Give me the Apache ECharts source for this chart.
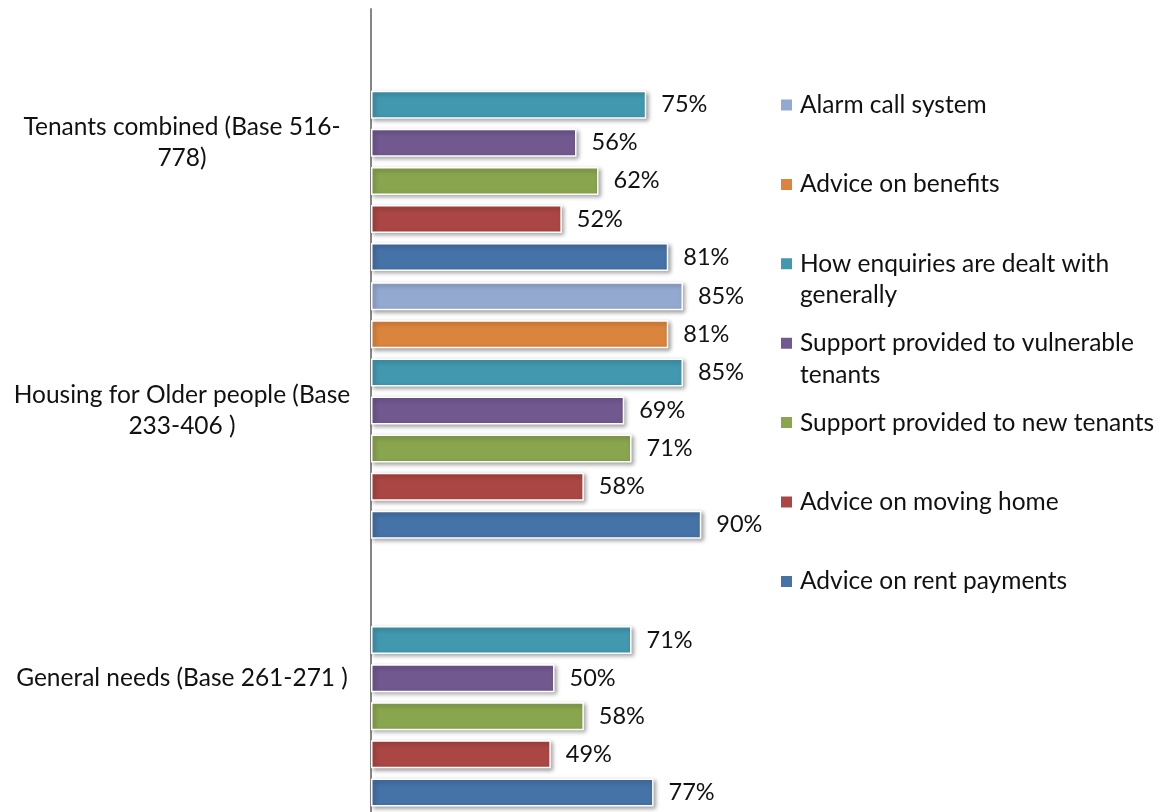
<!DOCTYPE html>
<html>
<head>
<meta charset="utf-8">
<script src="https://cdn.jsdelivr.net/npm/echarts@6/dist/echarts.min.js"></script>
<style>
  html, body { margin: 0; padding: 0; background: #ffffff; }
  #chart { width: 1167px; height: 812px; }
</style>
</head>
<body>
<div id="chart"></div>
<script>
// Categories, listed bottom to top along the vertical axis
const categories = [
  'General needs (Base 261-271 )',
  'Housing for Older people (Base 233-406 )',
  'Tenants combined (Base 516-778)'
];
// How each category name wraps on the axis
const categoryWrapped = {
  'General needs (Base 261-271 )': 'General needs (Base 261-271 )',
  'Housing for Older people (Base 233-406 )': 'Housing for Older people (Base\n233-406 )',
  'Tenants combined (Base 516-778)': 'Tenants combined (Base 516-\n778)'
};

// Satisfaction (%) per category, same order as categories
const rentPayments      = [77, 90, 81];
const movingHome        = [49, 58, 52];
const newTenants        = [58, 71, 62];
const vulnerableTenants = [50, 69, 56];
const enquiriesGeneral  = [71, 85, 75];
const benefitsAdvice    = [null, 81, null];
const alarmCallSystem   = [null, 85, null];

const seriesNames = [
  'Alarm call system',
  'Advice on benefits',
  'How enquiries are dealt with generally',
  'Support provided to vulnerable tenants',
  'Support provided to new tenants',
  'Advice on moving home',
  'Advice on rent payments'
];
const seriesData = [
  alarmCallSystem, benefitsAdvice, enquiriesGeneral, vulnerableTenants,
  newTenants, movingHome, rentPayments
];
const seriesColors = [
  '#93A9CF', '#DB843D', '#4198AF', '#71588F', '#89A54E', '#AA4643', '#4572A7'
];
// Legend entries that wrap onto a second line
const legendWrapped = {
  'How enquiries are dealt with generally': 'How enquiries are dealt with\ngenerally',
  'Support provided to vulnerable tenants': 'Support provided to vulnerable\ntenants'
};

const FONT = 'Lato';
const TEXT_SIZE = 24.5;
const VALUE_SIZE = 23.5;
const LINE_H = 31.5;

const chart = echarts.init(document.getElementById('chart'), null, { renderer: 'canvas' });

const series = seriesNames.map((name, i) => ({
  name: name,
  type: 'bar',
  data: seriesData[i],
  barWidth: 28,
  barGap: '36%',
  itemStyle: {
    color: seriesColors[i],
    borderColor: '#ffffff',
    borderWidth: 1.5,
    shadowColor: 'rgba(0,0,0,0.35)',
    shadowBlur: 4,
    shadowOffsetX: 2,
    shadowOffsetY: 2
  },
  label: {
    show: true,
    position: 'right',
    distance: 15,
    formatter: '{c}%',
    color: '#111111',
    fontFamily: FONT,
    fontSize: VALUE_SIZE
  },
  emphasis: { disabled: true }
}));

// One legend block per entry, stacked down the right-hand side.
// Wrapped entries get an empty leading line so the marker sits beside the first line.
const legendStep = 79.4;
const firstMarkerY = 105;
const legends = seriesNames.map((name, i) => {
  const wrapped = legendWrapped[name];
  const markerY = firstMarkerY + i * legendStep;
  const halfBlock = wrapped ? LINE_H * 1.5 : LINE_H / 2;
  return {
    orient: 'vertical',
    left: 779,
    top: markerY - halfBlock,
    padding: 0,
    itemWidth: 13,
    itemHeight: 13,
    icon: 'rect',
    selectedMode: false,
    data: [name],
    formatter: n => (legendWrapped[n] ? '\n' + legendWrapped[n] : n),
    textStyle: {
      color: '#111111',
      fontFamily: FONT,
      fontSize: TEXT_SIZE,
      lineHeight: LINE_H,
      padding: [0, 0, 0, 2]
    }
  };
});

chart.setOption({
  animation: false,
  backgroundColor: '#ffffff',
  grid: { left: 371, right: 429, top: 9, bottom: -1, containLabel: false },
  xAxis: {
    type: 'value',
    min: 0,
    max: 100,
    show: false
  },
  yAxis: {
    type: 'category',
    data: categories,
    axisLine: { show: true, lineStyle: { color: '#868686', width: 2 } },
    axisTick: { show: false },
    splitLine: { show: false },
    axisLabel: {
      margin: 189,
      align: 'center',
      color: '#111111',
      fontFamily: FONT,
      fontSize: TEXT_SIZE,
      lineHeight: LINE_H,
      formatter: v => categoryWrapped[v] || v
    }
  },
  legend: legends,
  series: series
});
</script>
</body>
</html>
